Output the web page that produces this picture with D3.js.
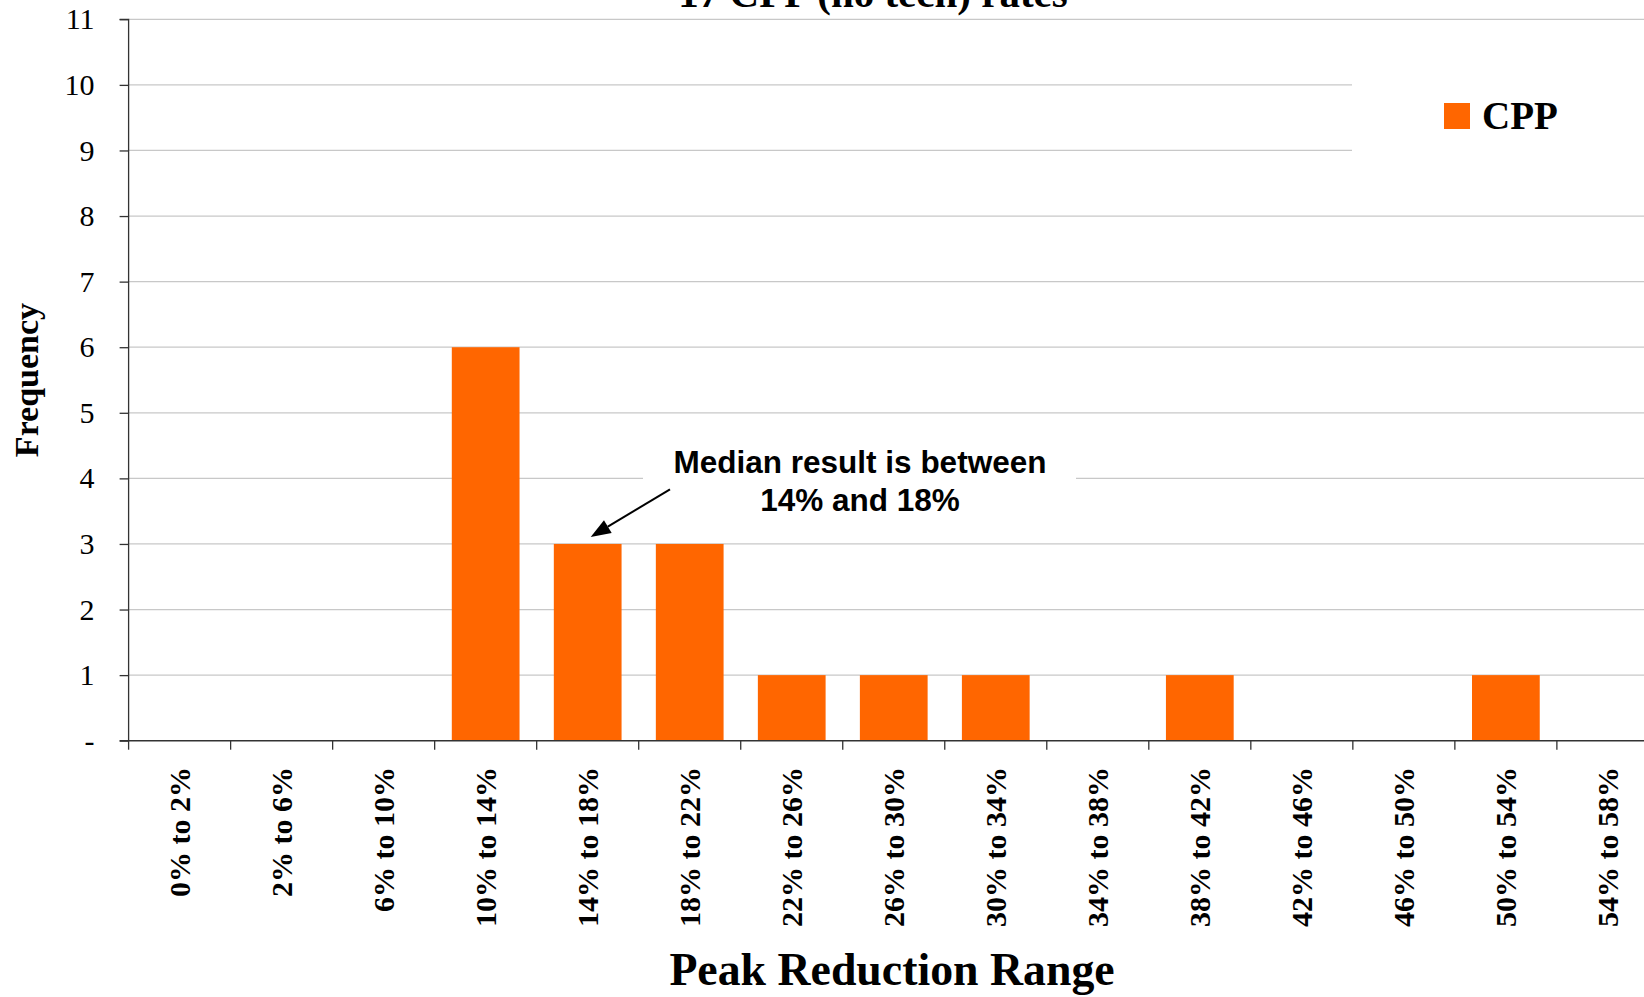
<!DOCTYPE html>
<html>
<head>
<meta charset="utf-8">
<script src="https://cdn.jsdelivr.net/npm/d3@7"></script>
<style>
  html, body { margin: 0; padding: 0; background: #ffffff; }
  svg { display: block; }
</style>
</head>
<body>
<script>
// ---- data ----
const categories = ["0% to 2%", "2% to 6%", "6% to 10%", "10% to 14%", "14% to 18%", "18% to 22%",
  "22% to 26%", "26% to 30%", "30% to 34%", "34% to 38%", "38% to 42%", "42% to 46%",
  "46% to 50%", "50% to 54%", "54% to 58%"];
const cppValues = [0, 0, 0, 6, 3, 3, 1, 1, 1, 0, 1, 0, 0, 1, 0];
const yTicks = [0, 1, 2, 3, 4, 5, 6, 7, 8, 9, 10, 11];
const yTickLabels = ["-", "1", "2", "3", "4", "5", "6", "7", "8", "9", "10", "11"];
const seriesName = "CPP";
const chartTitle = "17 CPP (no tech) rates";
const xTitle = "Peak Reduction Range";
const yTitle = "Frequency";
const annotationLines = ["Median result is between", "14% and 18%"];
const annotationCategory = "14% to 18%";

(function () {
// ---- layout ----
const W = 1644, H = 997;
const plotLeft = 128.6, plotTop = 19.3, plotBottom = 740.7;
const step = 102.02;
const plotRight = plotLeft + categories.length * step;
const barColor = "#FF6600";
const serif = "'Liberation Serif', 'Times New Roman', serif";
const sans = "'Liberation Sans', Arial, sans-serif";

const svg = d3.select("body").append("svg").attr("width", W).attr("height", H);

const xEdge = d3.scaleBand().domain(categories).range([plotLeft, plotRight]).padding(0);
const x = d3.scaleBand().domain(categories).range([plotLeft, plotRight]).paddingInner(0.336).paddingOuter(0.168);
const y = d3.scaleLinear().domain([0, 11]).range([plotBottom, plotTop]);

// gridlines
const grid = svg.append("g");
yTicks.filter(d => d > 0).forEach(d => {
  const endX = (d === 9 || d === 10) ? 1352 : W;
  grid.append("line")
    .attr("x1", plotLeft).attr("x2", endX)
    .attr("y1", y(d)).attr("y2", y(d))
    .attr("stroke", "#c8c8c8").attr("stroke-width", 1.3);
});

// annotation white box (hides gridline behind text)
svg.append("rect")
  .attr("x", 643).attr("y", 436).attr("width", 433).attr("height", 86)
  .attr("fill", "#ffffff");

// bars
svg.append("g").selectAll("rect").data(cppValues).join("rect")
  .attr("x", (d, i) => x(categories[i]))
  .attr("width", x.bandwidth())
  .attr("y", d => y(d))
  .attr("height", d => y(0) - y(d))
  .attr("fill", barColor);

// y axis
const yAxis = d3.axisLeft(y).tickValues(yTicks).tickSize(9).tickPadding(25)
  .tickFormat((d, i) => yTickLabels[i]);
const gy = svg.append("g").attr("transform", `translate(${plotLeft},0)`).call(yAxis);
gy.select(".domain").attr("stroke", "#333").attr("stroke-width", 1.3).attr("d", `M-9,${plotTop}H0V${plotBottom}H-9`);
gy.selectAll(".tick line").attr("stroke", "#333").attr("stroke-width", 1.3);
gy.selectAll(".tick text").attr("font-family", serif).attr("font-size", 30).attr("fill", "#000");

// x axis (ticks at band edges)
const gx = svg.append("g");
gx.append("line").attr("x1", plotLeft).attr("x2", W).attr("y1", plotBottom).attr("y2", plotBottom)
  .attr("stroke", "#333").attr("stroke-width", 1.5);
const edges = categories.map(c => xEdge(c)).concat([plotRight]);
gx.selectAll("line.tk").data(edges).join("line").attr("class", "tk")
  .attr("x1", d => d).attr("x2", d => d).attr("y1", plotBottom).attr("y2", plotBottom + 9)
  .attr("stroke", "#333").attr("stroke-width", 1.3);
gx.selectAll("text").data(categories).join("text")
  .attr("transform", d => `translate(${xEdge(d) + xEdge.bandwidth() / 2},767) rotate(-90)`)
  .attr("text-anchor", "end")
  .attr("dy", "0.35em")
  .attr("font-family", serif).attr("font-weight", "bold").attr("font-size", 30)
  .text(d => d);

// titles
svg.append("text").attr("x", 873).attr("y", 7).attr("text-anchor", "middle")
  .attr("font-family", serif).attr("font-weight", "bold").attr("font-size", 41)
  .text(chartTitle);
svg.append("text").attr("x", 892).attr("y", 985).attr("text-anchor", "middle")
  .attr("font-family", serif).attr("font-weight", "bold").attr("font-size", 45.8)
  .text(xTitle);
svg.append("text").attr("transform", "translate(37.5,380) rotate(-90)").attr("text-anchor", "middle")
  .attr("font-family", serif).attr("font-weight", "bold").attr("font-size", 34)
  .text(yTitle);

// legend
svg.append("rect").attr("x", 1444).attr("y", 103).attr("width", 26).attr("height", 26).attr("fill", barColor);
svg.append("text").attr("x", 1482).attr("y", 129)
  .attr("font-family", serif).attr("font-weight", "bold").attr("font-size", 39)
  .text(seriesName);

// annotation
const ann = svg.append("text").attr("text-anchor", "middle")
  .attr("font-family", sans).attr("font-weight", "bold").attr("font-size", 31.5);
annotationLines.forEach((t, i) => {
  ann.append("tspan").attr("x", 860).attr("y", 472.7 + i * 38.3).text(t);
});
const tipX = x(annotationCategory) + x.bandwidth() / 2 + 3;
const tipY = y(cppValues[categories.indexOf(annotationCategory)]) - 7;
const sx = 670, sy = 489.3;
const ang = Math.atan2(tipY - sy, tipX - sx);
const hl = 20, hw = 7.5;
const bx = tipX - hl * Math.cos(ang), by = tipY - hl * Math.sin(ang);
svg.append("line").attr("x1", sx).attr("y1", sy).attr("x2", bx).attr("y2", by)
  .attr("stroke", "#000").attr("stroke-width", 2);
svg.append("path")
  .attr("d", `M${tipX},${tipY}L${bx + hw * Math.sin(ang)},${by - hw * Math.cos(ang)}L${bx - hw * Math.sin(ang)},${by + hw * Math.cos(ang)}Z`)
  .attr("fill", "#000");
})();
</script>
</body>
</html>
